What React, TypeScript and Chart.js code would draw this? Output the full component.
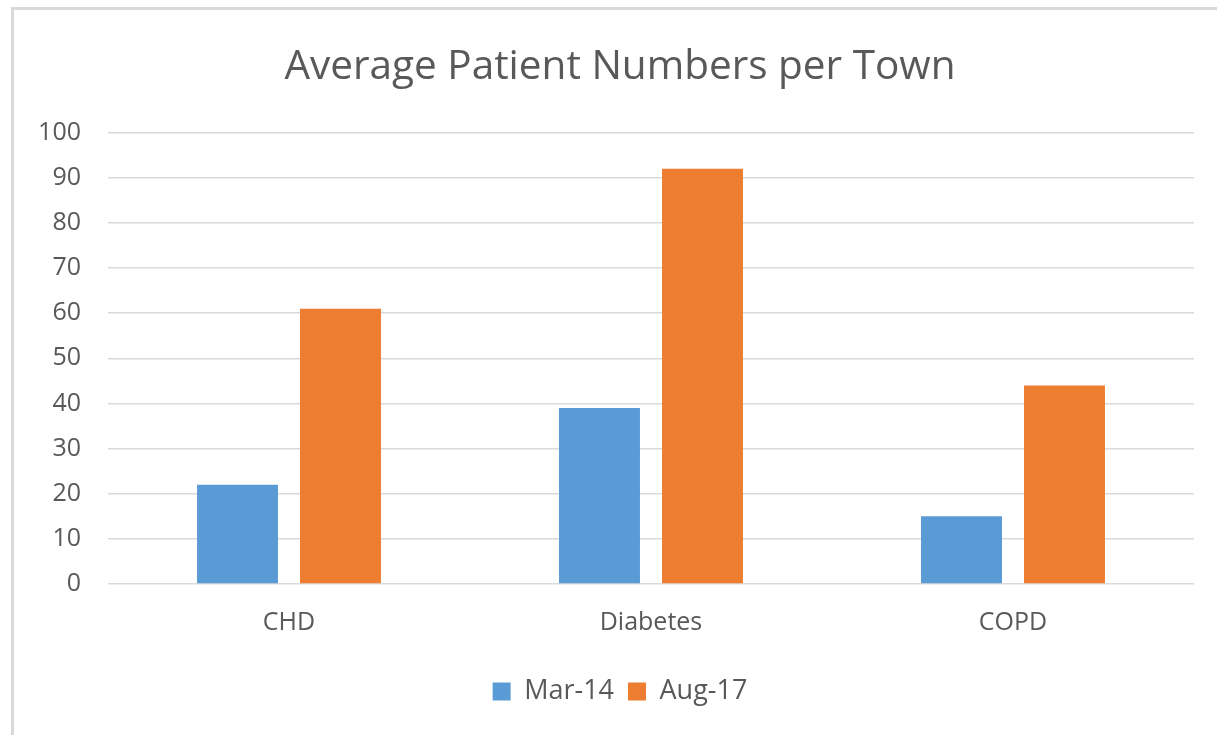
import React, { useEffect, useRef } from "react";
import { Chart, registerables } from "chart.js";

Chart.register(...registerables);

const categories = ["CHD", "Diabetes", "COPD"];
const mar14Values = [22, 39, 15];
const aug17Values = [61, 92, 44];
const seriesLabels = ["Mar-14", "Aug-17"];
const yTicks = [0, 10, 20, 30, 40, 50, 60, 70, 80, 90, 100];
const titleText = "Average Patient Numbers per Town";

const FONT = "'Open Sans', 'Liberation Sans', sans-serif";
const TEXT = "#595959";

export default function App() {
  const ref = useRef<HTMLCanvasElement | null>(null);

  useEffect(() => {
    document.body.style.margin = "0";
    document.body.style.overflow = "hidden";
    const canvas = ref.current;
    if (!canvas) return;
    const chart = new Chart(canvas, {
      type: "bar",
      data: {
        labels: categories,
        datasets: [
          {
            label: seriesLabels[0],
            data: mar14Values,
            backgroundColor: "#5B9BD5",
            borderWidth: 0,
            categoryPercentage: 0.569,
            barPercentage: 0.786,
            yAxisID: "y",
          },
          {
            label: seriesLabels[1],
            data: aug17Values,
            backgroundColor: "#ED7D31",
            borderWidth: 0,
            categoryPercentage: 0.569,
            barPercentage: 0.786,
            yAxisID: "y",
          },
        ],
      },
      options: {
        responsive: false,
        animation: false,
        layout: { padding: { left: 23, right: 0, top: 0, bottom: 20 } },
        plugins: {
          title: {
            display: true,
            text: titleText,
            color: TEXT,
            font: { family: FONT, size: 40.5, weight: "normal", lineHeight: 1.2 },
            padding: { top: 43, bottom: 41 },
          },
          legend: {
            display: true,
            position: "bottom",
            labels: {
              color: TEXT,
              font: { family: FONT, size: 27 },
              boxWidth: 18,
              boxHeight: 18,
              padding: 14,
            },
          },
          tooltip: { enabled: false },
        },
        scales: {
          x: {
            grid: { display: false, drawTicks: false },
            border: { display: false },
            ticks: {
              color: TEXT,
              font: { family: FONT, size: 25 },
              padding: 24,
            },
            afterFit: (s: any) => {
              s.height = 80;
            },
          },
          y: {
            min: 0,
            max: 100,
            afterBuildTicks: (s: any) => {
              s.ticks = yTicks.map((v) => ({ value: v }));
            },
            grid: { color: "#d9d9d9", lineWidth: 1.5, drawTicks: false },
            border: { display: false },
            ticks: {
              color: TEXT,
              font: { family: FONT, size: 25 },
              padding: 27,
            },
            afterFit: (s: any) => {
              s.width = 85;
            },
          },
          yRight: {
            position: "right",
            display: true,
            min: 0,
            max: 100,
            grid: { display: false, drawTicks: false },
            border: { display: false },
            ticks: { display: false },
            afterFit: (s: any) => {
              s.width = 23;
            },
          },
        },
      },
    });
    return () => chart.destroy();
  }, []);

  return (
    <div
      style={{
        position: "fixed",
        left: 0,
        top: 0,
        width: 1217,
        height: 735,
        overflow: "hidden",
        background: "#ffffff",
      }}
    >
      <div
        style={{
          position: "absolute",
          left: 11,
          top: 7,
          width: 1400,
          height: 900,
          borderLeft: "3px solid #d9d9d9",
          borderTop: "3px solid #d9d9d9",
        }}
      />
      <canvas
        ref={ref}
        width={1217}
        height={735}
        style={{ position: "absolute", left: 0, top: 0 }}
      />
    </div>
  );
}
